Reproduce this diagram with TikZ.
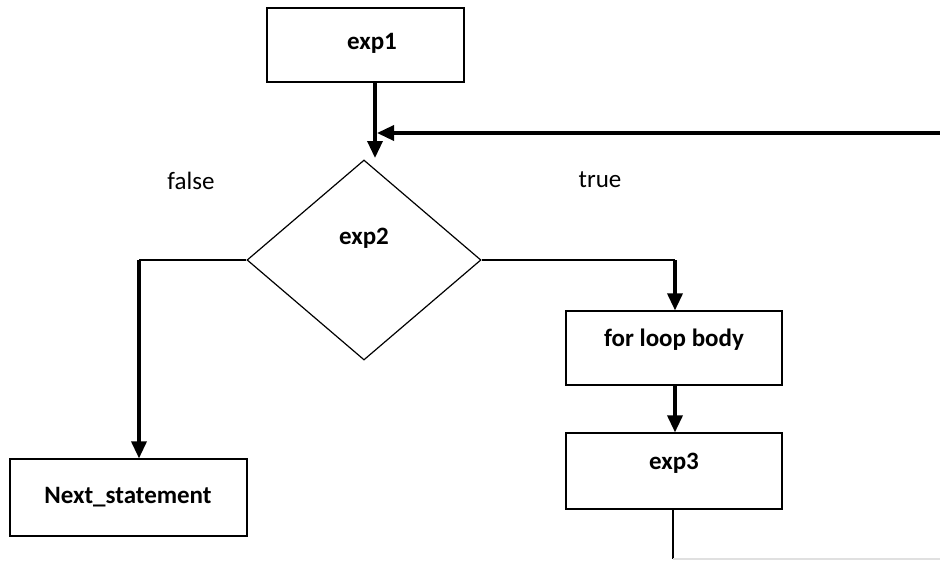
\documentclass[tikz,border=0pt]{standalone}
\usepackage{fontspec}
\setmainfont{Carlito}
\usetikzlibrary{shapes.geometric,arrows.meta}
\tikzset{
  box/.style={draw=black, line width=1.2pt, fill=white, inner sep=0pt},
  decision/.style={diamond, draw=black, line width=1.2pt, inner sep=0pt},
  lbl/.style={inner sep=0pt, font=\fontsize{25}{28}\selectfont},
  boxlbl/.style={inner sep=0pt, font=\fontsize{25}{28}\selectfont\bfseries},
  thinline/.style={draw=black, line width=1.2pt},
  flow/.style={draw=black, line width=3.4pt,
               -{Triangle[width=15pt,length=17pt]}},
}
\begin{document}
\begin{tikzpicture}[x=1pt, y=-1pt]
  \useasboundingbox (0,0) rectangle (940,560);

  % boxes
  \node[box, minimum width=197pt, minimum height=74pt] (exp1) at (365.5,45) {};
  \node[boxlbl] (t1) at (372,43) {exp1};

  \node[decision, minimum width=234pt, minimum height=200pt] (exp2) at (364,260) {};
  \node[boxlbl] (t2) at (364,238) {exp2};

  \node[box, minimum width=237pt, minimum height=77pt] (next) at (128.5,497.5) {};
  \node[boxlbl] (t3) at (128,497) {Next\_statement};

  \node[box, minimum width=216pt, minimum height=74pt] (body) at (674,348) {};
  \node[boxlbl] (t4) at (674,340) {for loop body};

  \node[box, minimum width=216pt, minimum height=76pt] (exp3) at (674,471) {};
  \node[boxlbl] (t5) at (674,463) {exp3};

  % branch labels
  \node[lbl] (fls) at (191,181) {false};
  \node[lbl] (tru) at (600,180) {true};

  % junction points
  \coordinate (in)   at (375,158);
  \coordinate (ret)  at (940,133);
  \coordinate (fl)   at (139,260);
  \coordinate (tr)   at (675,260);
  \coordinate (down) at (673,559);
  \coordinate (back) at (940,559);

  % entry and loop-back arrows
  \draw[flow] (exp1.south -| in) -- (in);
  \draw[flow] (ret) -- ([xshift=2pt]in |- ret);

  % false branch
  \draw[thinline] (exp2.west) -- (fl);
  \draw[flow] (fl) -- (fl |- next.north);

  % true branch
  \draw[thinline] (exp2.east) -- (tr);
  \draw[flow] (tr) -- (tr |- body.north);
  \draw[flow] (body.south -| tr) -- (exp3.north -| tr);

  % back to the top
  \draw[thinline] (exp3.south -| down) -- (down);
  \draw[draw=black!12, line width=1.2pt] (down) -- (back);
\end{tikzpicture}
\end{document}
